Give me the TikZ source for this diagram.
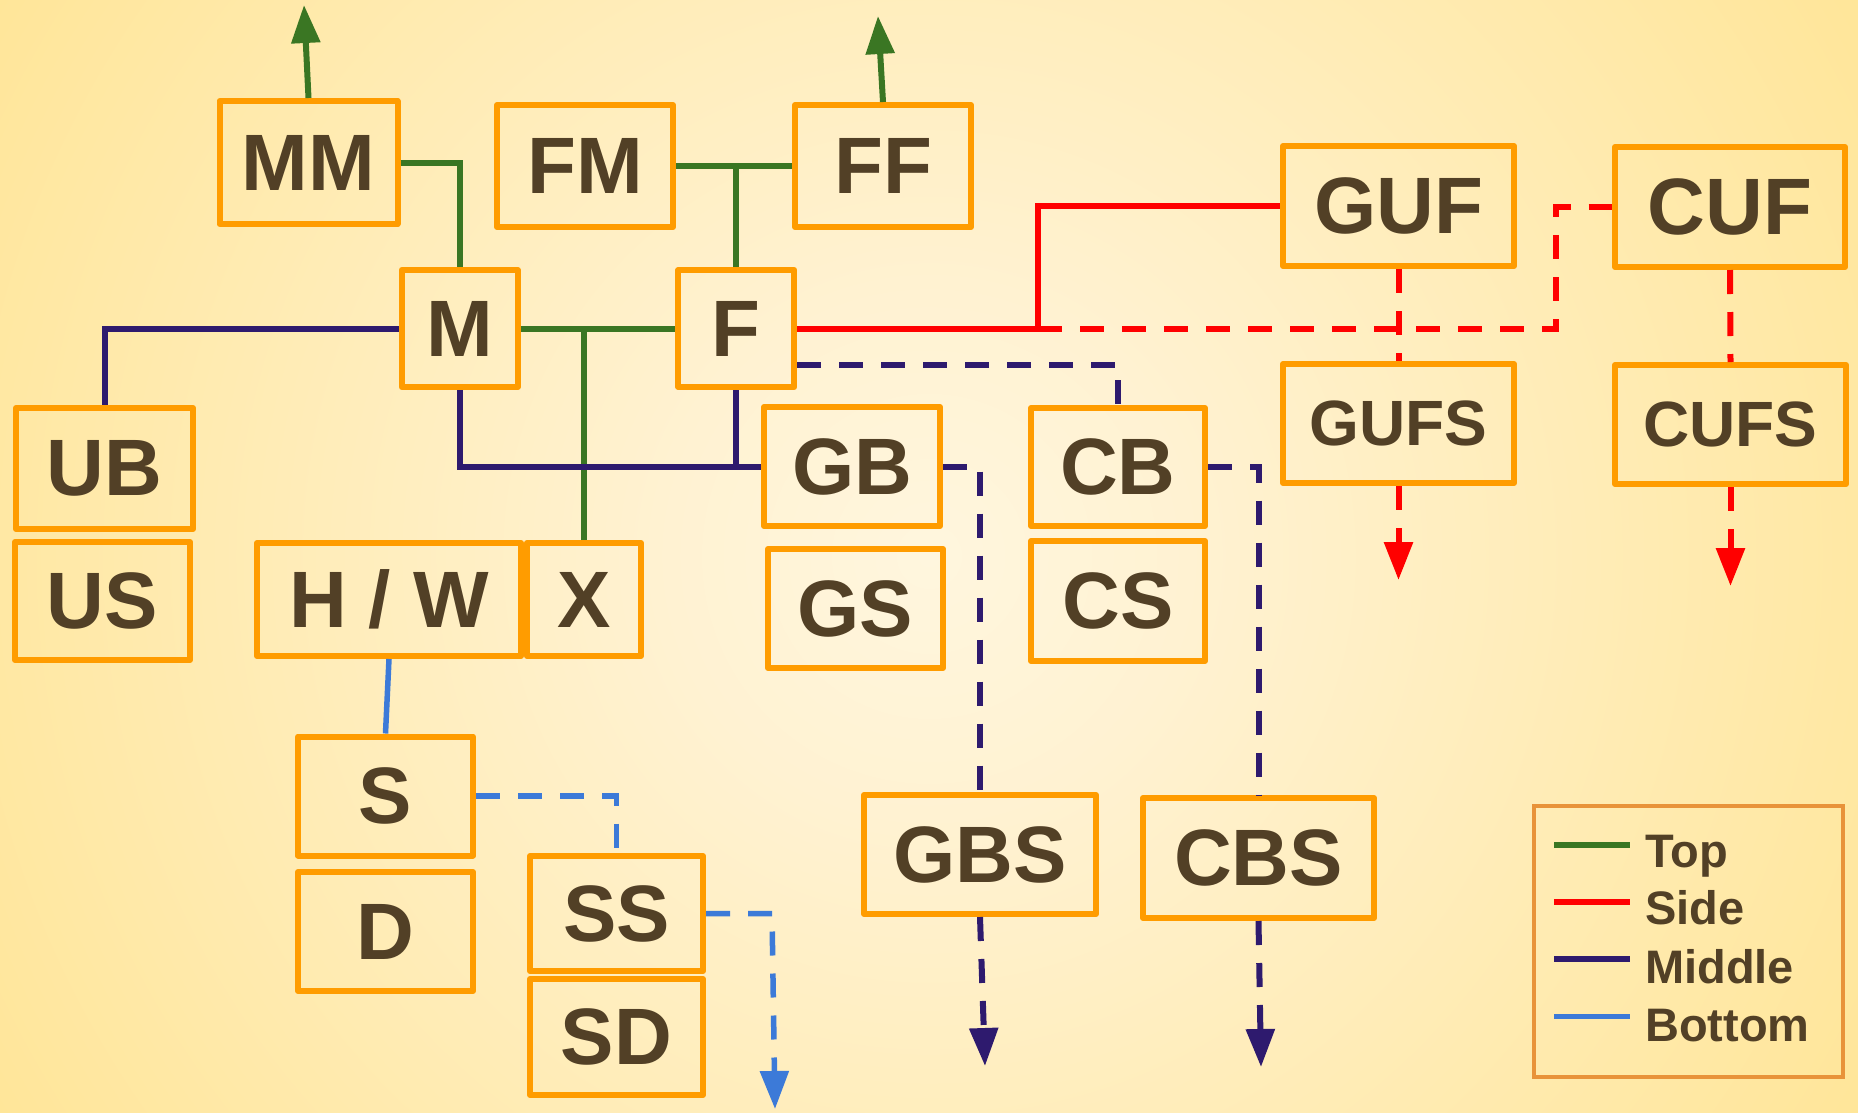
\documentclass[tikz,border=0pt]{standalone}
\usepackage{fontspec}
\setmainfont{Liberation Sans}
\newfontfamily\boxfont{Liberation Sans}
\usetikzlibrary{arrows.meta,calc}
\definecolor{bgA}{HTML}{FFF6DE}
\definecolor{bgB}{HTML}{FFF2D2}
\definecolor{bgC}{HTML}{FFE596}
\definecolor{bgD}{HTML}{FEE18C}
\definecolor{bgE}{HTML}{FCDA78}
\definecolor{bgF}{HTML}{FAD56C}
\definecolor{boxorange}{HTML}{FF9C00}
\definecolor{txtbrown}{HTML}{524026}
\definecolor{legbord}{HTML}{E8933A}
\definecolor{topgreen}{HTML}{3A7623}
\definecolor{sidered}{HTML}{FF0000}
\definecolor{midnavy}{HTML}{2E1A6E}
\definecolor{botblue}{HTML}{3C7AD8}
\pgfdeclareradialshading{bgshade}{\pgfpoint{0bp}{0bp}}{color(0bp)=(bgA); color(6bp)=(bgB); color(26bp)=(bgC); color(32bp)=(bgD); color(43bp)=(bgE); color(50bp)=(bgF); color(75bp)=(bgF)}
\tikzset{
  box/.style={draw=boxorange, line width=6pt, line join=round, rectangle, inner sep=0pt, text=txtbrown,
    font={\boxfont\bfseries\fontsize{80pt}{80pt}\selectfont}},
  smallbox/.style={box, font={\boxfont\bfseries\fontsize{64pt}{64pt}\selectfont}},
  topl/.style={draw=topgreen, line width=6pt},
  sidel/.style={draw=sidered, line width=6pt},
  midl/.style={draw=midnavy, line width=6pt},
  botl/.style={draw=botblue, line width=5.5pt},
  dashl/.style={dash pattern=on 24pt off 18pt},
  headtip/.style={-{Triangle[length=38pt,width=28pt]}},
  legtext/.style={text=txtbrown, inner sep=0pt, font={\bfseries\fontsize{47pt}{47pt}\selectfont}}
}
\begin{document}
\begin{tikzpicture}[x=1pt,y=-1pt]
\useasboundingbox (0,0) rectangle (1858,1112);
\begin{scope}
\clip (0,0) rectangle (1858,1112);
\shade[shading=bgshade] (-154,-527) rectangle (2012,1639);
\end{scope}

% boxes
\node[box, minimum width=178pt, minimum height=123pt] (MM) at (308.5,162.5) {MM};
\node[box, minimum width=176pt, minimum height=122pt] (FM) at (585,166) {FM};
\node[box, minimum width=176pt, minimum height=122pt] (FF) at (883,166) {FF};
\node[box, minimum width=231pt, minimum height=120pt] (GUF) at (1398.5,206) {GUF};
\node[box, minimum width=230pt, minimum height=120pt] (CUF) at (1730,207) {CUF};
\node[box, minimum width=116pt, minimum height=117pt] (M) at (459.7,328.5) {M};
\node[box, minimum width=116pt, minimum height=117pt] (F) at (736.3,328.5) {F};
\node[box, minimum width=177pt, minimum height=121pt] (UB) at (104.5,468.5) {UB};
\node[box, minimum width=175pt, minimum height=118pt] (US) at (102.5,601) {US};
\node[box, minimum width=264pt, minimum height=113pt] (HW) at (389,599.5) {H / W};
\node[box, minimum width=114pt, minimum height=113pt] (X) at (584,599.5) {X};
\node[box, minimum width=176pt, minimum height=119pt] (GB) at (852,466.5) {GB};
\node[box, minimum width=175pt, minimum height=119pt] (GS) at (855.5,608.5) {GS};
\node[box, minimum width=174pt, minimum height=118pt] (CB) at (1118,467) {CB};
\node[box, minimum width=174pt, minimum height=120pt] (CS) at (1118,601) {CS};
\node[smallbox, minimum width=231pt, minimum height=119pt] (GUFS) at (1398.5,423.5) {GUFS};
\node[smallbox, minimum width=231pt, minimum height=119pt] (CUFS) at (1730.5,424.5) {CUFS};
\node[box, minimum width=175pt, minimum height=119pt] (S) at (385.5,796) {S};
\node[box, minimum width=175pt, minimum height=119pt] (D) at (385.5,931.5) {D};
\node[box, minimum width=173pt, minimum height=115pt] (SS) at (616.5,913.5) {SS};
\node[box, minimum width=173pt, minimum height=116pt] (SD) at (616.5,1037) {SD};
\node[box, minimum width=232pt, minimum height=119pt] (GBS) at (980,854.5) {GBS};
\node[box, minimum width=231pt, minimum height=120pt] (CBS) at (1258.5,858) {CBS};

% free ends
\coordinate (mmtip) at (304,5);
\coordinate (fftip) at (878,16);
\coordinate (rjoin) at (1038,328.5);
\coordinate (rbend) at (1556,207);
\coordinate (guftip) at (1398.5,580);
\coordinate (cuftip) at (1730.5,586);
\coordinate (gbstip) at (985,1066);
\coordinate (cbstip) at (1261,1067);
\coordinate (ssbend) at (772,913.5);
\coordinate (sstip) at (775,1109);

% Top (green)
\draw[topl, headtip] (MM.north) -- (mmtip);
\draw[topl, headtip] (FF.north) -- (fftip);
\draw[topl] (MM.east) -| (M.north);
\draw[topl] (FM.east) -- (FF.west);
\draw[topl] (F.north) -- (F.north |- FM.east);
\draw[topl] (M.east) -- (F.west);
\draw[topl] (X.north) -- (X.north |- M.east);

% Middle (navy)
\draw[midl] (M.west) -| (UB.north);
\draw[midl] (M.south) |- (GB.west);
\draw[midl] (F.south) -- (F.south |- GB.west);
\draw[midl, dashl] ([yshift=-36.5pt]F.east) -| (CB.north);
\draw[midl, dashl] (GB.east) -| (GBS.north);
\draw[midl, dashl] (CB.east) -| (CBS.north);
\draw[midl, dashl, headtip] (GBS.south) -- (gbstip);
\draw[midl, dashl, headtip] (CBS.south) -- (cbstip);

% Side (red)
\draw[sidel] (F.east) -- (rjoin) |- (GUF.west);
\draw[sidel, dashl] (rjoin) -| (rbend) -- (CUF.west);
\draw[sidel, dashl] (GUF.south) -- (GUFS.north);
\draw[sidel, dashl] (CUF.south) -- (CUFS.north);
\draw[sidel, dashl, headtip] (GUFS.south) -- (guftip);
\draw[sidel, dashl, headtip] (CUFS.south) -- (cuftip);

% Bottom (blue)
\draw[botl] (HW.south) -- (S.north);
\draw[botl, dashl] (S.east) -| (SS.north);
\draw[botl, dashl, headtip] (SS.east) -- (ssbend) -- (sstip);

% legend
\node[draw=legbord, line width=4.5pt, minimum width=309pt, minimum height=271pt, inner sep=0pt] (legend) at (1688.5,941.5) {};
\draw[topl] (1554,845) -- (1630,845);
\draw[sidel] (1554,902) -- (1630,902);
\draw[midl] (1554,958.5) -- (1630,958.5);
\draw[botl] (1554,1016.5) -- (1630,1016.5);
\node[legtext, anchor=base west] (lgtop) at (1645,867) {Top};
\node[legtext, anchor=base west] (lgside) at (1645,924.5) {Side};
\node[legtext, anchor=base west] (lgmid) at (1645,983.5) {Middle};
\node[legtext, anchor=base west] (lgbot) at (1645,1041) {Bottom};
\end{tikzpicture}
\end{document}
